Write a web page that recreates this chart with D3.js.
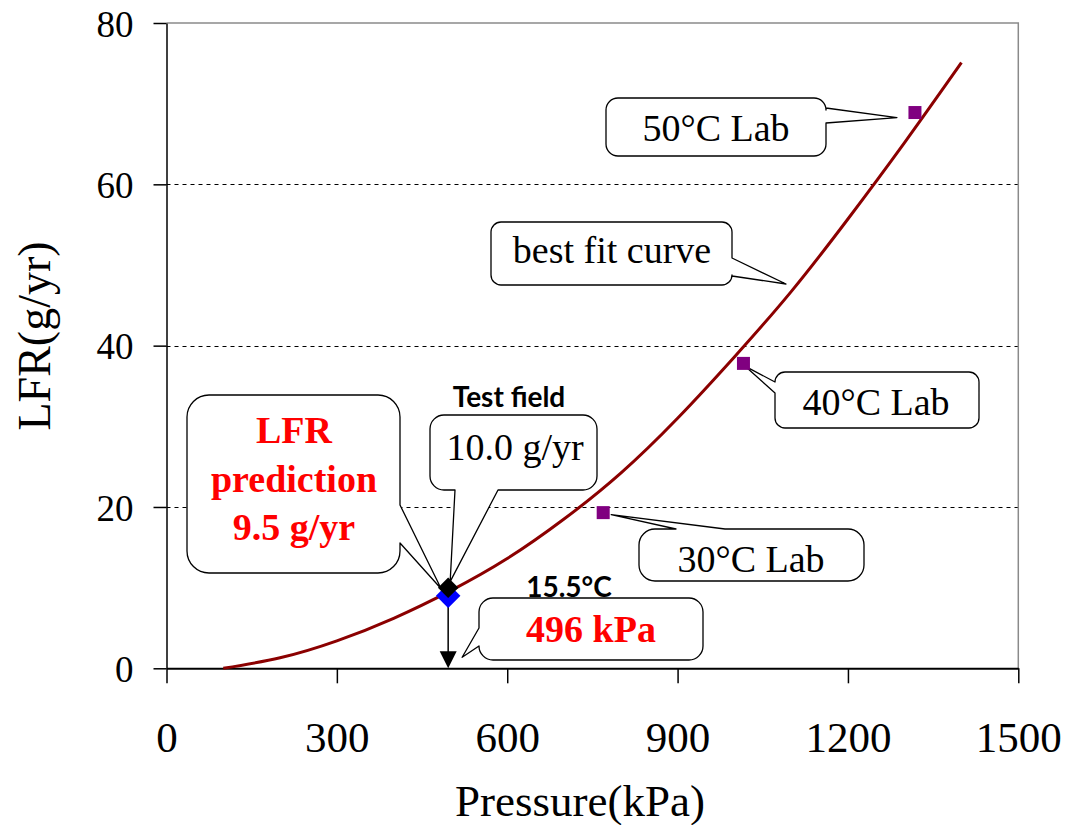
<!DOCTYPE html>
<html>
<head>
<meta charset="utf-8">
<script src="https://cdn.jsdelivr.net/npm/d3@7"></script>
<style>
  body { margin: 0; background: #fff; }
  svg { display: block; }
</style>
</head>
<body>
<div id="chart"></div>
<script>
// best fit curve
const fitPressure = [100, 200, 300, 400, 500, 600, 700, 800, 900, 1000, 1100, 1200, 1300, 1400];
const fitLFR      = [0, 1.3, 3.4, 6.2, 9.6, 13.6, 18.5, 24.2, 31.0, 38.6, 46.7, 55.7, 65.2, 75.1];

// lab measurements
const labNames    = ['30°C Lab', '40°C Lab', '50°C Lab'];
const labPressure = [769, 1016, 1318];
const labLFR      = [19.3, 37.8, 68.9];

// field test and prediction
const fieldPressure = 496;
const fieldLFR = 10.0;
const predLFR = 9.0;

const xTicks = [0, 300, 600, 900, 1200, 1500];
const yTicks = [0, 20, 40, 60, 80];
const gridTicks = [20, 40, 60];

const width = 1066, height = 825;
const SERIF = '"Liberation Serif", "Times New Roman", serif';
const SANS = 'Lato, "Liberation Sans", sans-serif';

const svg = d3.select('#chart').append('svg')
  .attr('width', width).attr('height', height);

const x = d3.scaleLinear().domain([0, 1500]).range([166.5, 1018.3]);
const y = d3.scaleLinear().domain([0, 80]).range([668.3, 23]);

// grid
svg.append('g').selectAll('line').data(gridTicks).join('line')
  .attr('x1', x(0)).attr('x2', x(1500))
  .attr('y1', d => Math.round(y(d)) + 0.5).attr('y2', d => Math.round(y(d)) + 0.5)
  .attr('stroke', '#000').attr('stroke-width', 1.2)
  .attr('stroke-dasharray', '4,4');

// frame (top / right)
svg.append('path')
  .attr('d', `M${x(0)},${y(80)}H${x(1500)}V${y(0)}`)
  .attr('fill', 'none').attr('stroke', '#8a8a8a').attr('stroke-width', 1.5);

// callouts
function calloutPath(c, tip) {
  const [x0, y0, x1, y1] = c.box, r = c.r, [a, b] = c.base || [0, 0];
  const T = `${tip[0]},${tip[1]}`;
  let p = `M${x0 + r},${y0}`;
  if (c.side === 'top') p += `L${a},${y0}L${T}L${b},${y0}`;
  p += `L${x1 - r},${y0}A${r},${r} 0 0 1 ${x1},${y0 + r}`;
  if (c.side === 'right') p += `L${x1},${a}L${T}L${x1},${b}`;
  p += `L${x1},${y1 - r}A${r},${r} 0 0 1 ${x1 - r},${y1}`;
  if (c.side === 'bottom') p += `L${b},${y1}L${T}L${a},${y1}`;
  p += `L${x0 + r},${y1}A${r},${r} 0 0 1 ${x0},${y1 - r}`;
  if (c.side === 'left') p += `L${x0},${b}L${T}L${x0},${a}`;
  p += `L${x0},${y0 + r}A${r},${r} 0 0 1 ${x0 + r},${y0}Z`;
  return p;
}

const callouts = [
  {lines: [labNames[2]], box: [606, 98, 826, 156], r: 12, side: 'right', base: [108, 123],
   tip: () => [x(labPressure[2]) - 18, y(labLFR[2]) + 5], tx: 716, ty: [141], color: '#000', bold: false},
  {lines: ['best fit curve'], box: [491, 222, 732, 285], r: 10, side: 'right', base: [258, 276],
   tip: () => [786, 284], tx: 612, ty: [263], color: '#000', bold: false},
  {lines: [labNames[1]], box: [775, 372, 979, 428], r: 10, side: 'left', base: [382, 393],
   tip: () => [x(labPressure[1]) + 2, y(labLFR[1]) + 3], tx: 876, ty: [415], color: '#000', bold: false},
  {lines: [labNames[0]], box: [639, 529, 864, 581], r: 16, side: 'top', base: [676, 725],
   tip: () => [x(labPressure[0]) + 8, y(labLFR[0]) + 2], tx: 751, ty: [572], color: '#000', bold: false},
  {lines: [`${fieldPressure} kPa`], box: [479, 598, 703, 660], r: 14, side: 'left', base: [628, 646],
   tip: () => [x(fieldPressure) + 14, y(0) - 11], tx: 591, ty: [642], color: '#ff0000', bold: true},
  {lines: [`${fieldLFR.toFixed(1)} g/yr`], box: [430, 415, 597, 490], r: 14, side: 'bottom', base: [455, 498],
   tip: () => [x(fieldPressure) + 2, y(fieldLFR) - 6], tx: 515, ty: [460], color: '#000', bold: false},
  {lines: ['LFR', 'prediction', '9.5 g/yr'], box: [187, 395, 400, 573], r: 22, side: 'right', base: [505, 543],
   tip: () => [x(fieldPressure) - 7, y(predLFR) - 7], tx: 294, ty: [443, 492, 540], color: '#ff0000', bold: true}
];

const cg = svg.append('g');
callouts.forEach(c => {
  cg.append('path')
    .attr('d', calloutPath(c, c.tip()))
    .attr('fill', '#fff').attr('stroke', '#000').attr('stroke-width', 1.3)
    .attr('stroke-linejoin', 'round');
});

// axes
const axisY = d3.axisLeft(y).tickValues(yTicks).tickFormat(d3.format('d'))
  .tickSize(13).tickSizeOuter(0).tickPadding(20);
const gy = svg.append('g').attr('transform', `translate(${x(0)},0)`).call(axisY)
  .attr('font-family', SERIF).attr('font-size', 37);
gy.selectAll('text').attr('dy', '0.36em').attr('fill', '#000');
gy.selectAll('line, path').attr('stroke', '#000').attr('stroke-width', 1.5);

const axisX = d3.axisBottom(x).tickValues(xTicks).tickFormat(d3.format('d'))
  .tickSize(15).tickSizeOuter(0).tickPadding(38);
const gx = svg.append('g').attr('transform', `translate(0,${y(0)})`).call(axisX)
  .attr('font-family', SERIF).attr('font-size', 43);
gx.selectAll('text').attr('fill', '#000');
gx.selectAll('line, path').attr('stroke', '#000').attr('stroke-width', 1.5);
gx.select('.domain').attr('stroke-width', 2);

// axis titles
svg.append('text').attr('font-family', SERIF)
  .attr('x', 580).attr('y', 816).attr('text-anchor', 'middle')
  .attr('font-size', 45).text('Pressure(kPa)');
svg.append('text').attr('font-family', SERIF)
  .attr('transform', 'translate(50,336) rotate(-90)').attr('text-anchor', 'middle')
  .attr('font-size', 46).text('LFR(g/yr)');

// best fit curve
const line = d3.line().x((d, i) => x(fitPressure[i])).y(d => y(d)).curve(d3.curveNatural);
svg.append('path').datum(fitLFR)
  .attr('d', line)
  .attr('fill', 'none').attr('stroke', '#8b0000').attr('stroke-width', 3);

// lab squares
svg.append('g').selectAll('rect').data(labLFR).join('rect')
  .attr('x', (d, i) => x(labPressure[i]) - 6.5).attr('y', d => y(d) - 6.5)
  .attr('width', 13).attr('height', 13).attr('fill', '#800080');

// arrow down to pressure axis
svg.append('line')
  .attr('x1', x(fieldPressure)).attr('x2', x(fieldPressure))
  .attr('y1', y(predLFR)).attr('y2', y(0) - 12)
  .attr('stroke', '#000').attr('stroke-width', 1.5);
svg.append('path')
  .attr('d', `M${x(fieldPressure) - 8.5},${y(0) - 17}L${x(fieldPressure) + 8.5},${y(0) - 17}L${x(fieldPressure)},${y(0)}Z`)
  .attr('fill', '#000');

// prediction / field diamonds
const diamond = d3.symbol().type(d3.symbolSquare);
svg.append('path')
  .attr('d', diamond.size(300)())
  .attr('transform', `translate(${x(fieldPressure)},${y(predLFR)}) rotate(45)`)
  .attr('fill', '#0000ff');
svg.append('path')
  .attr('d', diamond.size(210)())
  .attr('transform', `translate(${x(fieldPressure)},${y(fieldLFR)}) rotate(45)`)
  .attr('fill', '#000');

// callout texts
callouts.forEach(c => {
  c.lines.forEach((s, k) => {
    svg.append('text').attr('font-family', SERIF)
      .attr('x', c.tx).attr('y', c.ty[k]).attr('text-anchor', 'middle')
      .attr('font-size', 38).attr('font-weight', c.bold ? 'bold' : 'normal')
      .attr('fill', c.color).text(s);
  });
});

// bold labels
svg.append('text')
  .attr('x', 509).attr('y', 407).attr('text-anchor', 'middle')
  .attr('font-family', SANS).attr('font-weight', 'bold')
  .attr('font-size', 28).text('Test field');
svg.append('text')
  .attr('x', 569).attr('y', 597).attr('text-anchor', 'middle')
  .attr('font-family', SANS).attr('font-weight', 'bold')
  .attr('font-size', 28).text('15.5°C');
</script>
</body>
</html>
